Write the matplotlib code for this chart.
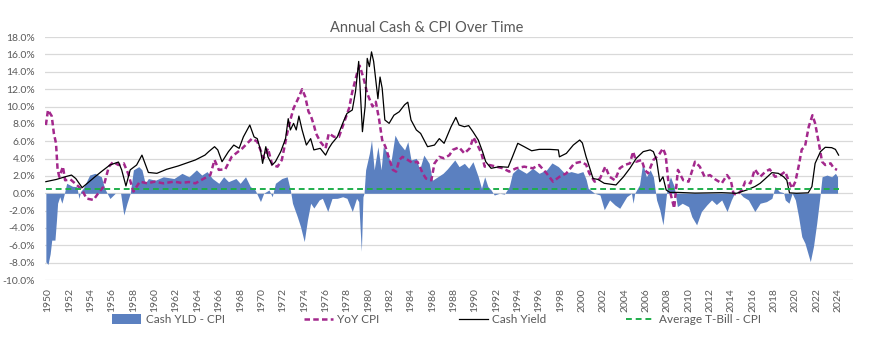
import numpy as np
import matplotlib
matplotlib.use("Agg")
import matplotlib.pyplot as plt
from matplotlib.patches import Patch
from matplotlib.lines import Line2D

plt.rcParams['font.family'] = ['Lato', 'DejaVu Sans']

# data (fractional years, percent)
cash_dates = [1949.8, 1950.8, 1951.6, 1952.2, 1952.6, 1953.2, 1953.6, 1954.4, 1955.0, 1955.8,
              1956.6, 1956.9, 1957.3, 1957.7, 1958.3, 1958.8, 1959.2, 1959.4, 1960.2, 1961.1,
              1962.2, 1962.9, 1963.8, 1964.7, 1965.05, 1965.6, 1965.9, 1966.3, 1966.9, 1967.4,
              1967.9, 1968.3, 1968.9, 1969.3, 1969.6, 1969.9, 1970.1, 1970.4, 1970.6, 1971.0,
              1971.3, 1971.8, 1972.25, 1972.5, 1972.7, 1973.0, 1973.25, 1973.5, 1973.8, 1974.2,
              1974.6, 1974.9, 1975.5, 1976.0, 1976.3, 1976.6, 1977.1, 1977.6, 1978.0, 1978.5,
              1978.8, 1979.1, 1979.45, 1979.7, 1979.9, 1980.1, 1980.3, 1980.5, 1980.9, 1981.1,
              1981.3, 1981.55, 1981.95, 1982.4, 1982.9, 1983.4, 1983.7, 1984.0, 1984.5, 1984.9,
              1985.55, 1986.2, 1986.65, 1987.1, 1987.75, 1988.2, 1988.5, 1989.0, 1989.4, 1989.8,
              1990.3, 1990.7, 1991.0, 1991.5, 1992.3, 1993.1, 1993.5, 1994.0, 1994.6, 1995.3,
              1996.0, 1997.0, 1997.8, 1997.9, 1998.55, 1999.2, 1999.8, 2000.05, 2000.4, 2000.6,
              2001.05, 2001.5, 2002.1, 2003.2, 2003.9, 2004.5, 2005.1, 2005.75, 2006.4, 2006.7,
              2007.0, 2007.3, 2007.6, 2007.9, 2008.25, 2009.0, 2010.6, 2013.1, 2014.5, 2015.45,
              2016.2, 2016.7, 2017.2, 2017.8, 2018.4, 2018.9, 2019.2, 2019.45, 2020.1, 2021.2,
              2021.55, 2021.85, 2022.35, 2022.8, 2023.4, 2023.75, 2024.05]
cash_yield = [1.34, 1.6, 1.9, 2.1, 1.7, 0.65, 1.07, 1.9, 2.5, 3.26,
              3.6, 2.7, 0.84, 2.7, 3.26, 4.4, 3.07, 2.4, 2.3, 2.76,
              3.15, 3.45, 3.84, 4.4, 4.8, 5.37, 5.0, 3.64, 4.8, 5.56,
              5.18, 6.5, 7.87, 6.5, 6.3, 5.0, 3.45, 5.37, 4.2, 3.26,
              3.64, 4.8, 6.3, 8.6, 7.3, 8.06, 7.3, 8.9, 7.3, 5.56,
              6.3, 5.0, 5.18, 4.4, 5.18, 5.76, 6.5, 8.06, 9.2, 9.6,
              11.7, 15.2, 7.1, 10.0, 15.55, 14.6, 16.3, 15.2, 10.9, 13.4,
              12.1, 8.45, 8.06, 9.0, 9.4, 10.2, 10.5, 8.45, 7.3, 6.9,
              5.37, 5.56, 6.3, 5.76, 7.67, 8.75, 7.87, 7.67, 7.8, 7.1,
              6.14, 4.8, 3.64, 2.88, 3.07, 3.0, 4.2, 5.76, 5.37, 4.9,
              5.06, 5.06, 5.0, 4.2, 4.6, 5.56, 6.14, 5.8, 4.2, 3.45,
              1.7, 1.6, 1.15, 0.96, 1.9, 2.88, 4.03, 4.8, 5.0, 4.8,
              3.84, 1.34, 1.9, 0.38, 0.1, 0.1, 0.02, 0.07, 0.0, 0.38,
              0.77, 1.15, 1.7, 2.38, 2.3, 1.9, 1.5, 0.05, 0.0, 0.05,
              0.77, 3.45, 4.8, 5.3, 5.26, 5.06, 4.4]

cpi_dates = [1949.8, 1950.0, 1950.35, 1950.55, 1950.75, 1950.9, 1951.06, 1951.4, 1951.6, 1952.1,
             1952.7, 1953.2, 1953.6, 1954.26, 1954.7, 1955.2, 1955.7, 1956.1, 1956.6, 1957.1,
             1957.5, 1958.0, 1958.6, 1959.3, 1960.0, 1960.8, 1961.8, 1962.5, 1963.2, 1963.8,
             1964.6, 1965.2, 1965.6, 1966.0, 1966.6, 1967.2, 1968.2, 1969.1, 1969.6, 1969.9,
             1970.2, 1970.6, 1971.0, 1971.5, 1971.9, 1972.4, 1972.7, 1973.0, 1973.5, 1973.8,
             1974.1, 1974.4, 1974.6, 1974.9, 1975.1, 1975.5, 1976.0, 1976.3, 1976.8, 1977.25,
             1977.7, 1978.2, 1978.5, 1978.98, 1979.2, 1979.6, 1979.9, 1980.4, 1980.7, 1981.0,
             1981.3, 1981.6, 1981.95, 1982.3, 1982.6, 1982.9, 1983.2, 1983.7, 1984.15, 1984.6,
             1985.1, 1985.4, 1985.9, 1986.2, 1986.65, 1987.1, 1987.6, 1987.9, 1988.5, 1989.0,
             1989.5, 1989.85, 1990.3, 1990.6, 1990.9, 1991.35, 1992.0, 1992.6, 1993.2, 1993.85,
             1994.6, 1995.4, 1996.0, 1996.7, 1997.3, 1997.9, 1998.55, 1999.3, 1999.95, 2000.4,
             2000.7, 2001.2, 2001.7, 2002.2, 2002.6, 2003.1, 2003.55, 2004.0, 2004.5, 2004.8,
             2005.1, 2005.6, 2005.9, 2006.2, 2006.7, 2007.2, 2007.6, 2007.85, 2008.15, 2008.65,
             2009.0, 2009.5, 2010.0, 2010.6, 2011.05, 2011.5, 2012.0, 2012.5, 2013.1, 2013.6,
             2013.95, 2014.2, 2014.5, 2015.0, 2015.3, 2015.8, 2016.2, 2016.7, 2017.2, 2017.6,
             2018.1, 2018.6, 2019.05, 2019.4, 2019.7, 2020.0, 2020.3, 2020.6, 2020.9, 2021.25,
             2021.6, 2021.85, 2022.2, 2022.5, 2022.8, 2023.3, 2023.6, 2023.9]
cpi_yoy = [7.86, 9.6, 8.9, 6.9, 5.76, 2.7, 1.9, 3.07, 1.5, 1.6,
           0.96, 0.38, -0.6, -0.77, 0.0, 0.76, 3.07, 3.6, 3.26, 3.45,
           2.3, 0.2, 1.34, 1.15, 1.34, 1.15, 1.34, 1.2, 1.3, 1.15,
           1.7, 2.1, 3.84, 2.7, 2.76, 4.2, 5.18, 6.3, 5.95, 5.0,
           4.03, 5.18, 3.26, 3.07, 3.84, 6.9, 8.45, 9.8, 11.1, 12.0,
           11.1, 9.4, 9.0, 7.87, 6.9, 5.95, 5.18, 6.9, 6.5, 6.5,
           8.06, 9.8, 11.7, 14.0, 14.7, 13.05, 11.5, 10.0, 10.55, 8.6,
           6.14, 5.37, 4.03, 2.7, 2.5, 3.84, 4.2, 3.84, 3.5, 3.64,
           2.3, 1.7, 1.5, 3.45, 4.2, 4.03, 4.4, 5.0, 5.3, 4.6,
           5.18, 6.45, 5.37, 4.6, 3.07, 3.26, 3.07, 2.88, 2.5, 2.88,
           3.07, 2.88, 3.26, 2.3, 1.34, 1.9, 2.3, 3.45, 3.64, 3.3,
           2.3, 1.34, 1.7, 3.07, 1.9, 1.5, 2.88, 3.26, 3.45, 4.8,
           3.64, 3.84, 2.7, 2.3, 3.84, 4.4, 5.18, 4.4, 0.77, -1.73,
           2.7, 1.5, 1.34, 3.64, 3.07, 1.9, 2.1, 1.6, 1.15, 2.1,
           1.5, 0.0, -0.2, 0.38, 1.34, 1.15, 2.76, 1.9, 2.5, 2.76,
           1.9, 2.1, 2.5, 1.34, 0.57, 1.34, 3.07, 5.06, 5.37, 7.67,
           9.0, 8.06, 5.76, 3.64, 3.26, 3.45, 2.88, 2.7]

spread_dates = [1949.8, 1950.0, 1950.2, 1950.35, 1950.65, 1950.8, 1950.9, 1951.1, 1951.3, 1951.5,
                1951.75, 1952.3, 1952.7, 1952.9, 1953.05, 1953.3, 1953.9, 1954.4, 1955.0, 1955.3,
                1955.8, 1956.3, 1956.8, 1957.1, 1957.4, 1957.7, 1958.0, 1958.5, 1958.8, 1959.1,
                1959.4, 1960.05, 1960.8, 1961.8, 1962.55, 1963.2, 1963.9, 1964.4, 1964.9, 1965.4,
                1966.0, 1966.45, 1966.9, 1967.6, 1968.0, 1968.5, 1968.95, 1969.4, 1969.9, 1970.2,
                1970.7, 1971.0, 1971.3, 1971.9, 1972.4, 1972.7, 1972.9, 1973.35, 1973.65, 1974.0,
                1974.3, 1974.6, 1974.9, 1975.4, 1975.7, 1976.2, 1976.6, 1977.1, 1977.6, 1978.0,
                1978.5, 1978.9, 1979.1, 1979.35, 1979.5, 1979.6, 1979.75, 1980.1, 1980.3, 1980.55,
                1980.9, 1981.2, 1981.4, 1981.8, 1982.1, 1982.5, 1982.9, 1983.4, 1983.7, 1984.0,
                1984.5, 1984.8, 1985.2, 1985.7, 1986.0, 1986.5, 1987.0, 1987.4, 1988.1, 1988.5,
                1989.0, 1989.4, 1989.8, 1990.3, 1990.6, 1990.9, 1991.2, 1991.5, 1991.8, 1992.3,
                1992.75, 1993.2, 1993.5, 1994.0, 1994.8, 1995.4, 1996.0, 1996.7, 1997.2, 1997.8,
                1998.4, 1999.0, 1999.6, 2000.1, 2000.4, 2000.6, 2001.2, 2001.7, 2002.1, 2002.6,
                2003.1, 2003.55, 2004.2, 2004.65, 2004.8, 2004.95, 2005.4, 2005.7, 2006.05, 2006.4,
                2006.7, 2007.0, 2007.3, 2007.6, 2007.8, 2008.0, 2008.3, 2008.65, 2008.95, 2009.4,
                2010.0, 2010.3, 2010.75, 2011.2, 2011.7, 2012.15, 2012.6, 2013.1, 2013.6, 2014.0,
                2014.3, 2014.8, 2015.1, 2015.6, 2016.2, 2016.7, 2017.3, 2017.8, 2018.1, 2018.5,
                2018.9, 2019.05, 2019.4, 2019.7, 2020.0, 2020.3, 2020.6, 2020.9, 2021.4, 2021.7,
                2022.0, 2022.3, 2022.5, 2022.96, 2023.4, 2023.75, 2023.95]
spread = [-7.9, -8.2, -7.0, -5.4, -5.4, -3.0, -1.15, -0.4, -1.15, -0.2,
          1.15, 0.8, 0.77, -0.6, 0.2, 0.57, 2.1, 2.3, 1.9, 0.57,
          -0.6, 0.0, 0.0, -2.5, -1.15, 0.0, 2.7, 3.07, 2.7, 1.15,
          1.7, 1.5, 1.9, 1.7, 2.3, 1.9, 2.7, 2.1, 2.5, 1.7,
          1.15, 1.9, 1.34, 1.7, 1.15, 1.9, 0.77, 0.38, -0.96, 0.0,
          0.38, -0.4, 1.15, 1.7, 1.9, 0.38, -1.15, -2.7, -3.84, -5.57,
          -3.07, -1.15, -1.7, -0.77, -0.58, -2.1, -0.6, -0.58, -0.4, -0.58,
          -2.1, -0.58, -0.96, -6.7, -0.4, 0.0, 2.7, 4.6, 6.14, 2.7,
          5.37, 2.7, 5.37, 4.6, 3.45, 6.7, 5.76, 5.0, 5.95, 3.84,
          4.03, 2.7, 4.4, 3.45, 1.5, 1.9, 2.3, 2.8, 3.84, 3.07,
          3.45, 2.88, 3.64, 1.9, 0.57, 1.9, 0.77, 0.38, -0.2, 0.0,
          -0.1, 0.77, 2.3, 2.88, 2.3, 2.88, 2.3, 2.7, 3.5, 3.07,
          2.3, 2.5, 2.3, 2.5, 1.6, 0.57, 0.0, -0.2, -1.9, -0.77,
          -1.35, -1.73, -0.4, 0.0, -1.15, 0.0, 0.96, 3.45, 1.9, 2.7,
          1.9, -0.77, -1.9, -3.64, -1.54, 0.77, 1.9, 0.77, -1.54, -1.15,
          -1.54, -2.7, -3.64, -2.1, -1.35, -0.77, -1.3, -0.77, -2.1, -0.77,
          0.0, 0.0, -0.4, -0.77, -2.1, -1.15, -0.96, -0.58, 0.77, 0.2,
          0.07, -0.77, -1.15, 0.0, -0.77, -2.7, -5.0, -5.76, -7.88, -6.1,
          -3.45, -0.4, 1.9, 2.1, 1.9, 2.3, 1.9]

avg_spread = 0.45

fig = plt.figure(figsize=(8.74, 3.47), dpi=100)
ax = fig.add_axes([0.0515, 0.193, 0.9245, 0.70])

ax.fill_between(spread_dates, spread, 0, color='#5b80c0', linewidth=0, zorder=2)
ax.plot(cpi_dates, cpi_yoy, color='#a3288c', lw=1.8, ls=(0, (2.2, 1.3)), zorder=3)
ax.plot(cash_dates, cash_yield, color='black', lw=0.9, zorder=4)
ax.plot([spread_dates[0], cash_dates[-1]], [avg_spread, avg_spread], color='#1fae4b',
        lw=1.4, ls=(0, (3, 2)), zorder=5)

ax.set_xlim(1949.72, 2025.4)
ax.set_ylim(-10, 18)
ax.set_yticks(np.arange(-10, 19, 2))
ax.set_yticklabels([f'{v:.1f}%' for v in np.arange(-10, 19, 2)])
ax.set_xticks(np.arange(1950, 2025, 2))
ax.set_xticklabels([str(y) for y in range(1950, 2025, 2)], rotation=90)
ax.tick_params(axis='both', length=0, labelsize=7.5, labelcolor='#595959')
ax.tick_params(axis='y', pad=7)
ax.tick_params(axis='x', pad=6)
ax.grid(axis='y', color='#d9d9d9', lw=0.9, zorder=0)
ax.set_axisbelow(True)
for s in ax.spines.values():
    s.set_visible(False)

fig.text(0.4885, 0.92, 'Annual Cash & CPI Over Time', ha='center', va='center',
         fontsize=10.5, color='#595959')

handles = [Patch(facecolor='#5b80c0', edgecolor='none'),
           Line2D([], [], color='#a3288c', lw=1.8, ls=(0, (2.2, 1.3))),
           Line2D([], [], color='black', lw=0.9),
           Line2D([], [], color='#1fae4b', lw=1.4, ls=(0, (3, 2)))]
labels = ['Cash YLD - CPI', 'YoY CPI', 'Cash Yield', 'Average T-Bill - CPI']
fig.legend(handles, labels, loc='center', bbox_to_anchor=(0.4995, 0.078), ncol=4,
           frameon=False, fontsize=8.5, labelcolor='#595959', handlelength=2.5,
           handleheight=0.9, handletextpad=0.35, columnspacing=6.7)

fig.savefig('out.png', dpi=100)
